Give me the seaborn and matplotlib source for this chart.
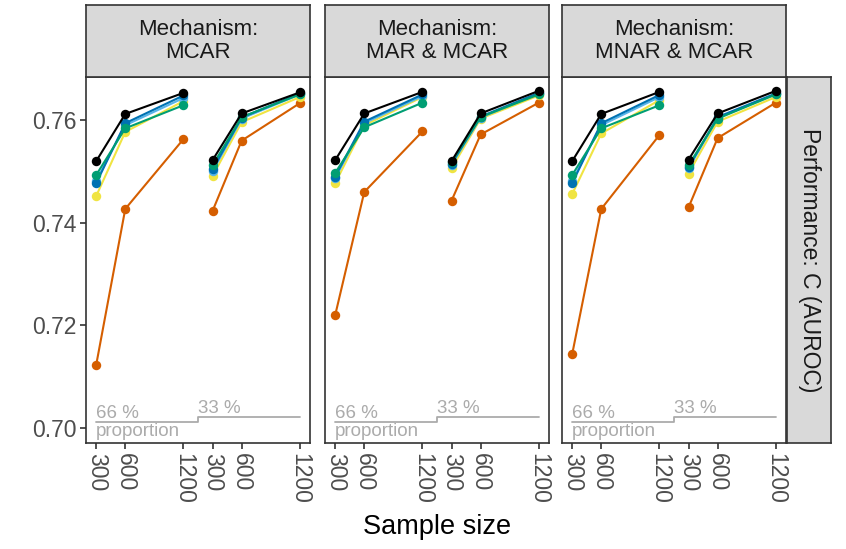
import numpy as np
import pandas as pd
import matplotlib
matplotlib.use("Agg")
import matplotlib.pyplot as plt
import seaborn as sns

# ---------------- data ----------------
mechanisms = ["MCAR", "MAR & MCAR", "MNAR & MCAR"]
proportions = ["66 %", "33 %"]
sample_sizes = [300, 600, 1200]
methods = ["Method 1", "Method 2", "Method 3", "Method 4", "Method 5", "Method 6"]
method_colors = ["#D55E00", "#F0E442", "#56B4E9", "#0072B2", "#009E73", "#000000"]

# values: for each method -> [66% n300, n600, n1200, 33% n300, n600, n1200]
mcar_vals = {
    "Method 6": [0.7520, 0.7612, 0.7653, 0.7522, 0.7613, 0.7654],
    "Method 4": [0.7477, 0.7594, 0.7648, 0.7504, 0.7605, 0.7652],
    "Method 3": [0.7482, 0.7590, 0.7643, 0.7500, 0.7603, 0.7650],
    "Method 5": [0.7493, 0.7584, 0.7629, 0.7512, 0.7606, 0.7650],
    "Method 2": [0.7452, 0.7577, 0.7637, 0.7491, 0.7596, 0.7645],
    "Method 1": [0.7123, 0.7427, 0.7563, 0.7423, 0.7560, 0.7633],
}
mar_vals = {
    "Method 6": [0.7522, 0.7613, 0.7655, 0.7520, 0.7613, 0.7657],
    "Method 4": [0.7490, 0.7597, 0.7650, 0.7515, 0.7607, 0.7653],
    "Method 3": [0.7487, 0.7594, 0.7647, 0.7513, 0.7605, 0.7652],
    "Method 5": [0.7497, 0.7586, 0.7634, 0.7518, 0.7606, 0.7650],
    "Method 2": [0.7477, 0.7590, 0.7645, 0.7506, 0.7603, 0.7648],
    "Method 1": [0.7220, 0.7460, 0.7578, 0.7443, 0.7572, 0.7634],
}
mnar_vals = {
    "Method 6": [0.7520, 0.7612, 0.7655, 0.7523, 0.7613, 0.7657],
    "Method 4": [0.7477, 0.7594, 0.7649, 0.7508, 0.7606, 0.7652],
    "Method 3": [0.7482, 0.7590, 0.7645, 0.7506, 0.7604, 0.7651],
    "Method 5": [0.7493, 0.7584, 0.7629, 0.7512, 0.7603, 0.7650],
    "Method 2": [0.7456, 0.7574, 0.7639, 0.7496, 0.7597, 0.7645],
    "Method 1": [0.7144, 0.7427, 0.7571, 0.7430, 0.7565, 0.7634],
}
all_vals = [mcar_vals, mar_vals, mnar_vals]

# ---------------- build long table ----------------
group_offset = max(sample_sizes)  # nested-loop x shift per proportion group
rows = []
for mech, vals in zip(mechanisms, all_vals):
    for meth in methods:
        v = vals[meth]
        for gi, prop in enumerate(proportions):
            for si, n in enumerate(sample_sizes):
                rows.append(dict(mechanism=mech, method=meth, proportion=prop,
                                 n=n, x=n + gi * group_offset,
                                 value=v[gi * len(sample_sizes) + si]))
df = pd.DataFrame(rows)

# ---------------- style ----------------
sns.set_theme(style="white")
plt.rcParams["font.family"] = ["Liberation Sans", "DejaVu Sans"]

W, H = 846, 549
fig = plt.figure(figsize=(W / 100, H / 100), dpi=100)

def fx(px):
    return px / W

def fy(py):
    return 1 - py / H

panel_lefts = [86, 325, 562]
panel_w = 224
ptop, pbot = 77, 443
strip_top = 5
frame_col = "#333333"
grey_txt = "#ABABAB"
palette = dict(zip(methods, method_colors))
levels = [0.7011, 0.7022]
step_x = (max(sample_sizes) + min(sample_sizes) + group_offset) / 2

axes = []
for i, mech in enumerate(mechanisms):
    ax = fig.add_axes([fx(panel_lefts[i]), fy(pbot), fx(panel_w), (pbot - ptop) / H])
    axes.append(ax)
    d = df[df.mechanism == mech]
    sns.lineplot(data=d, x="x", y="value", hue="method", units="proportion",
                 estimator=None, palette=palette, hue_order=methods,
                 marker="o", markersize=6.8, markeredgewidth=0,
                 linewidth=1.5, legend=False, ax=ax, sort=True)
    # nested-loop proportion reference (step)
    xs = [min(sample_sizes), step_x, step_x, max(sample_sizes) + group_offset]
    ys = [levels[0], levels[0], levels[1], levels[1]]
    ax.plot(xs, ys, color=grey_txt, lw=1.3, zorder=1)
    ax.text(min(sample_sizes), levels[0], proportions[0], color=grey_txt,
            fontsize=13.5, ha="left", va="bottom")
    ax.text(min(sample_sizes), levels[0] - 0.0001, "proportion", color=grey_txt,
            fontsize=13.5, ha="left", va="top")
    ax.text(step_x, levels[1], proportions[1], color=grey_txt,
            fontsize=13.5, ha="left", va="bottom")

    ax.set_xlim(195, 2505)
    ax.set_ylim(0.6971, 0.7684)
    ticks_x = [n + g * group_offset for g in range(len(proportions)) for n in sample_sizes]
    ax.set_xticks(ticks_x)
    ax.set_xticklabels([str(n) for _ in proportions for n in sample_sizes],
                       rotation=-90, fontsize=16.5, color="#4D4D4D")
    ax.set_yticks([0.70, 0.72, 0.74, 0.76])
    if i == 0:
        ax.set_yticklabels(["0.70", "0.72", "0.74", "0.76"], fontsize=16.5, color="#4D4D4D")
        ax.tick_params(axis="y", left=True, length=4, width=1.2, color=frame_col, pad=3)
    else:
        ax.set_yticklabels([])
        ax.tick_params(axis="y", left=False)
    ax.tick_params(axis="x", bottom=True, length=4, width=1.2, color=frame_col, pad=3)
    ax.set_xlabel("")
    ax.set_ylabel("")
    for s in ax.spines.values():
        s.set_color(frame_col)
        s.set_linewidth(1.2)
    ax.grid(False)
    ax.set_facecolor("white")

    # top strip
    sax = fig.add_axes([fx(panel_lefts[i]), fy(ptop), fx(panel_w), (ptop - strip_top) / H])
    sax.set_facecolor("#D9D9D9")
    sax.set_xticks([]); sax.set_yticks([])
    for s in sax.spines.values():
        s.set_color(frame_col); s.set_linewidth(1.2)
    sax.text(0.5, 0.5, f"Mechanism:\n{mech}", ha="center", va="center",
             fontsize=16, color="#1A1A1A", linespacing=1.1, transform=sax.transAxes)

# right strip
rax = fig.add_axes([fx(787), fy(pbot), fx(44), (pbot - ptop) / H])
rax.set_facecolor("#D9D9D9")
rax.set_xticks([]); rax.set_yticks([])
for s in rax.spines.values():
    s.set_color(frame_col); s.set_linewidth(1.2)
rax.text(0.5, 0.5, "Performance: C (AUROC)", ha="center", va="center", rotation=-90,
         fontsize=16.5, color="#1A1A1A", transform=rax.transAxes)

fig.text(fx(437), fy(527), "Sample size", ha="center", va="center", fontsize=19.5,
         color="#000000")

fig.savefig("out.png", dpi=100)
